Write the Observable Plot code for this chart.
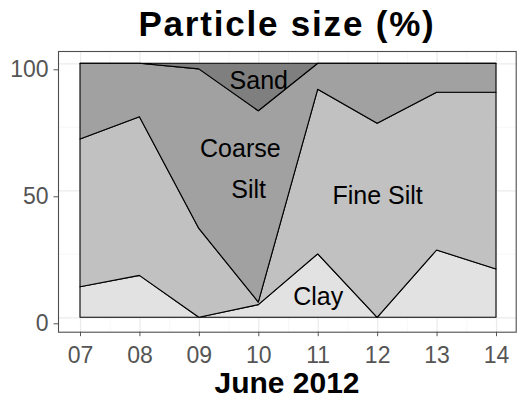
<!DOCTYPE html>
<html><head><meta charset="utf-8">
<script src="https://cdn.jsdelivr.net/npm/d3@7"></script>
<script src="https://cdn.jsdelivr.net/npm/@observablehq/plot@0.6"></script>
<style>
body{margin:0;background:#fff;font-family:"Liberation Sans",Arial,sans-serif;}
#wrap{width:522px;height:400px;overflow:hidden;}
.t{box-sizing:border-box;width:522px;padding-left:58px;padding-right:6px;text-align:center;font-weight:bold;color:#000;white-space:nowrap;}
#title{height:48px;line-height:48px;font-size:35px;letter-spacing:1.8px;}
#xlab{height:28px;line-height:22px;font-size:30px;}
svg{display:block}
</style></head><body>
<div id="wrap"><div id="title" class="t">Particle size (%)</div><div id="chart"></div><div id="xlab" class="t">June 2012</div></div>
<script>
const days = [7, 8, 9, 10, 11, 12, 13, 14];
const dayLabels = ["07", "08", "09", "10", "11", "12", "13", "14"];
const classes = ["Clay", "Fine Silt", "Coarse Silt", "Sand"];
const clay       = [12.0, 16.5, 0.0, 5.0, 25.0, 0.0, 26.5, 19.0];
const fineSilt   = [58.2, 62.5, 35.0, 1.0, 64.8, 76.4, 62.1, 69.6];
const coarseSilt = [29.8, 21.0, 62.8, 75.3, 10.2, 23.6, 11.4, 11.4];
const sand       = [0.0, 0.0, 2.2, 18.7, 0.0, 0.0, 0.0, 0.0];
const fills = ["#e2e2e2", "#c1c1c1", "#a1a1a1", "#7f7f7f"];
const yTicks = [0, 50, 100];
const yMinor = [25, 75];
const xMinor = [7.5, 8.5, 9.5, 10.5, 11.5, 12.5, 13.5];
const labelText = ["Sand", "Coarse", "Silt", "Fine Silt", "Clay"];
const labelX = [10.0, 9.69, 9.83, 12.0, 11.0];
const labelY = [93.4, 66.3, 50.5, 48.1, 8.0];

const series = [clay, fineSilt, coarseSilt, sand];
const rows = [];
classes.forEach((c, i) => days.forEach((d, j) => rows.push({day: d, cls: c, value: series[i][j]})));
const labels = labelText.map((t, i) => ({t, x: labelX[i], y: labelY[i]}));

const chart = Plot.plot({
  width: 522, height: 324,
  marginLeft: 58, marginRight: 6.3, marginTop: 3, marginBottom: 40.3,
  style: {fontFamily: "Liberation Sans, Arial, sans-serif", background: "white", overflow: "visible"},
  x: {type: "linear", domain: [7, 14], range: [80, 496]},
  y: {domain: [0, 100], range: [269.3, 15.3]},
  color: {domain: classes, range: fills},
  marks: [
    Plot.ruleX(xMinor, {stroke: "#f3f3f3", strokeWidth: 0.7}),
    Plot.ruleY(yMinor, {stroke: "#f3f3f3", strokeWidth: 0.7}),
    Plot.ruleX(days, {stroke: "#ebebeb", strokeWidth: 1.2}),
    Plot.ruleY(yTicks, {stroke: "#ebebeb", strokeWidth: 1.2}),
    Plot.areaY(rows, Plot.stackY({x: "day", y: "value", z: "cls", fill: "cls", order: classes, stroke: "black", strokeWidth: 1.1, curve: "linear"})),
    Plot.text(labels, {x: "x", y: "y", text: "t", fontSize: 25, fill: "black"}),
    Plot.frame({stroke: "#4d4d4d", strokeWidth: 1.1}),
    Plot.axisX({ticks: days, tickFormat: d => dayLabels[days.indexOf(d)], tickSize: 4.5, tickPadding: 10, fontSize: 23, color: "#555", label: null}),
    Plot.axisY({ticks: yTicks, tickSize: 4.5, tickPadding: 5.5, fontSize: 23, color: "#555", label: null, dy: 6})
  ]
});
document.getElementById("chart").appendChild(chart);
</script>
</body></html>
